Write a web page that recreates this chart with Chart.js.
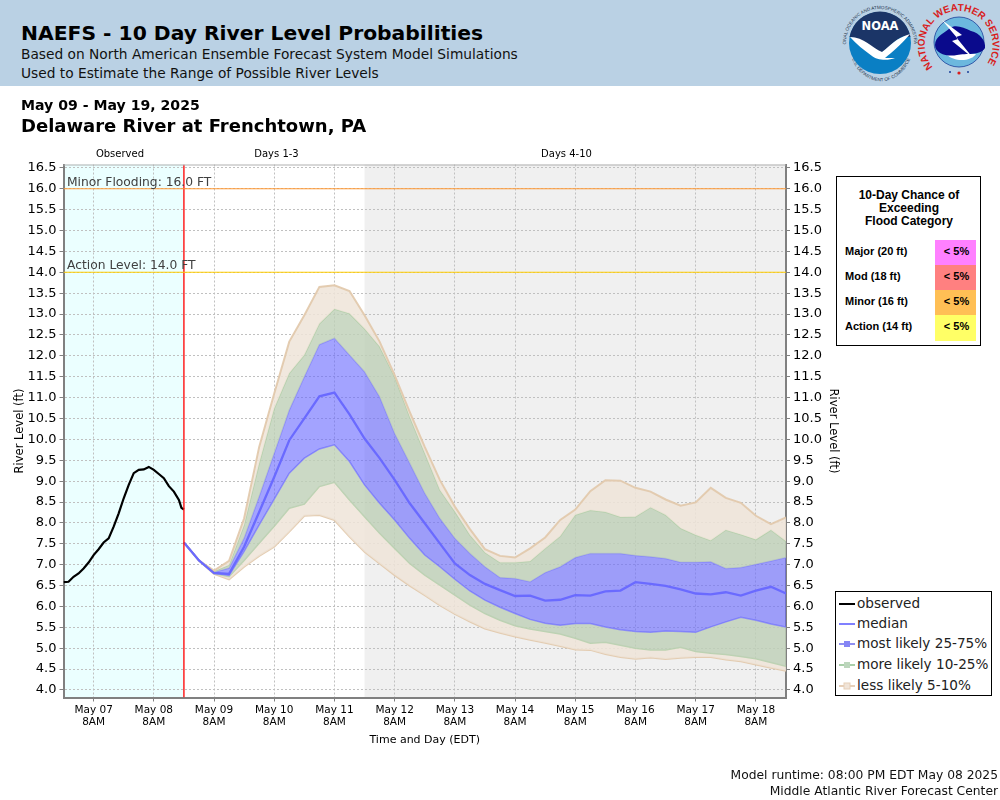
<!DOCTYPE html>
<html>
<head>
<meta charset="utf-8">
<title>NAEFS - 10 Day River Level Probabilities</title>
<script src="https://cdn.jsdelivr.net/npm/chart.js@4/dist/chart.umd.js"></script>
<style>
body { margin: 0; background: #fff; font-family: "DejaVu Sans", sans-serif; color: #000; }
#page { position: relative; width: 1000px; height: 800px; overflow: hidden; }
#page > div, #page > svg, #page > canvas { position: absolute; }
.txt { white-space: nowrap; }
#band { left: 0; top: 0; width: 1000px; height: 86px; background: #bad1e4; }
#chance { left: 836px; top: 176px; width: 143px; height: 168px; border: 1.5px solid #000; background: #fff;
  font-family: "Liberation Sans", sans-serif; font-weight: bold; font-size: 11px; }
#chance div { position: absolute; white-space: nowrap; }
#chance .head { left: 1px; width: 142px; text-align: center; font-size: 12px; }
#chance .cell { left: 98px; width: 39px; padding-left: 2px; height: 25px; line-height: 23px; text-align: center; }
#legend { left: 835px; top: 591px; width: 155px; height: 103px; border: 1.5px solid #000; background: #fff; font-size: 13.6px; }
#legend .row { position: absolute; left: 21px; white-space: nowrap; color: #222; }
#legend svg { position: absolute; left: 2px; }
</style>
</head>
<body>
<div id="page">
  <canvas id="river" width="1000" height="800"></canvas>
  <div id="band"></div>
  <div class="txt" style="left:21px;top:21px;font-size:20.3px;font-weight:bold">NAEFS - 10 Day River Level Probabilities</div>
  <div class="txt" style="left:21px;top:46px;font-size:13.75px;color:#111">Based on North American Ensemble Forecast System Model Simulations</div>
  <div class="txt" style="left:21px;top:65px;font-size:13.75px;color:#111">Used to Estimate the Range of Possible River Levels</div>
  <div class="txt" style="left:21px;top:97px;font-size:14.1px;font-weight:bold">May 09 - May 19, 2025</div>
  <div class="txt" style="left:21px;top:115px;font-size:18px;font-weight:bold">Delaware River at Frenchtown, PA</div>
  <div class="txt" style="right:2px;top:768px;font-size:12.3px;color:#111">Model runtime: 08:00 PM EDT May 08 2025</div>
  <div class="txt" style="right:2px;top:784px;font-size:12.3px;color:#111">Middle Atlantic River Forecast Center</div>

  <svg style="left:840px;top:0" width="160" height="86" viewBox="840 0 160 86">
    <defs>
      <path id="noaaTop" d="M846 43 A34 34 0 0 1 914 43"/>
      <path id="noaaBot" d="M849 43 A31 37 0 0 0 913 43"/>
      <path id="nwsTop" d="M932 66 A34 34 0 1 1 988 62"/>
    </defs>
    <text font-size="4.6" fill="#26374f" font-family="Liberation Sans"><textPath href="#noaaTop" startOffset="50%" text-anchor="middle">NATIONAL OCEANIC AND ATMOSPHERIC ADMINISTRATION</textPath></text>
    <text font-size="4.6" fill="#26374f" font-family="Liberation Sans"><textPath href="#noaaBot" startOffset="50%" text-anchor="middle">U.S. DEPARTMENT OF COMMERCE</textPath></text>
    <circle cx="880" cy="43" r="31" fill="#0a7fc4"/>
    <path d="M849.5 37 A31 31 0 0 1 910.5 37 L904 36 C893 40 888 50 880 53 C872 48 862 38 849.5 37 Z" fill="#1b3567"/>
    <path d="M850 37 C864 37 872 48 882 52 C890 46 896 38 910 34 C900 46 892 52 885 58 L895 58 C888 61 876 60 872 56 C864 50 856 44 850 37 Z" fill="#fff"/>
    <text x="880" y="30" text-anchor="middle" font-size="11.5" font-weight="bold" fill="#fff" font-family="DejaVu Sans">NOAA</text>
    <text font-size="10" font-weight="bold" fill="#d81e1e" font-family="Liberation Sans"><textPath href="#nwsTop" startOffset="50%" text-anchor="middle">NATIONAL WEATHER SERVICE</textPath></text>
    <circle cx="959" cy="42" r="25" fill="#6cb8de" stroke="#1a3f9a" stroke-width="0.8"/>
    <path d="M946 54 C954 62 970 62 976 54 Z" fill="#fff"/>
    <path d="M935 45 C935 36 945 33 950 28 C956 24 964 28 971 31 C980 33 986 41 985 48 C980 56 966 53 957 55 C948 57 935 54 935 45 Z" fill="#0a0a8c"/>
    <path d="M942 20 L962 35 L956 37 L973 58 L952 41 L958 39 Z" fill="#fff"/>
    <circle cx="959" cy="73" r="1.6" fill="#d81e1e"/>
    <circle cx="950" cy="72" r="1" fill="#1a3f9a"/><circle cx="968" cy="72" r="1" fill="#1a3f9a"/>
  </svg>

  <div id="chance">
    <div class="head" style="top:11px">10-Day Chance of</div>
    <div class="head" style="top:24px">Exceeding</div>
    <div class="head" style="top:37px">Flood Category</div>
    <div style="left:8px;top:68px">Major (20 ft)</div>
    <div style="left:8px;top:93px">Mod (18 ft)</div>
    <div style="left:8px;top:118px">Minor (16 ft)</div>
    <div style="left:8px;top:143px">Action (14 ft)</div>
    <div class="cell" style="top:63px;background:#ff80ff">&lt; 5%</div>
    <div class="cell" style="top:88px;background:#ff8080">&lt; 5%</div>
    <div class="cell" style="top:113px;background:#ffbf55">&lt; 5%</div>
    <div class="cell" style="top:138px;height:26px;background:#ffff66">&lt; 5%</div>
  </div>

  <div id="legend">
    <svg style="top:5px" width="18" height="14"><line x1="1" y1="7" x2="17" y2="7" stroke="#000" stroke-width="2"/></svg>
    <div class="row" style="top:3px">observed</div>
    <svg style="top:25px" width="18" height="14"><line x1="1" y1="7" x2="17" y2="7" stroke="#8080ff" stroke-width="2"/></svg>
    <div class="row" style="top:23px">median</div>
    <svg style="top:45px" width="18" height="14"><line x1="1" y1="7" x2="17" y2="7" stroke="#8f8ff2" stroke-width="2"/><rect x="6" y="4" width="6" height="6" fill="#8585f5"/></svg>
    <div class="row" style="top:43px">most likely 25-75%</div>
    <svg style="top:66px" width="18" height="14"><line x1="1" y1="7" x2="17" y2="7" stroke="#a9cfa9" stroke-width="2"/><rect x="6" y="4" width="6" height="6" fill="#bcd6bc"/></svg>
    <div class="row" style="top:64px">more likely 10-25%</div>
    <svg style="top:87px" width="18" height="14"><line x1="1" y1="7" x2="17" y2="7" stroke="#e6cfb8" stroke-width="2"/><rect x="6" y="4" width="6" height="6" fill="#f0e4d8" stroke="#e6cfb8"/></svg>
    <div class="row" style="top:85px">less likely 5-10%</div>
  </div>
</div>

<script>
// hours counted from May 06 8PM
const tickHours = [12, 36, 60, 84, 108, 132, 156, 180, 204, 228, 252, 276]
const tickDays = ['May 07', 'May 08', 'May 09', 'May 10', 'May 11', 'May 12', 'May 13', 'May 14', 'May 15', 'May 16', 'May 17', 'May 18']
const levelTicks = [4, 4.5, 5, 5.5, 6, 6.5, 7, 7.5, 8, 8.5, 9, 9.5, 10, 10.5, 11, 11.5, 12, 12.5, 13, 13.5, 14, 14.5, 15, 15.5, 16, 16.5]

const obsHours = [0, 2, 4, 6, 8, 10, 12, 14, 16, 18, 20, 22, 24, 26, 28, 30, 32, 34, 36, 38, 40, 42, 44, 46, 47, 48]
const observed = [6.58, 6.59, 6.71, 6.79, 6.91, 7.05, 7.23, 7.37, 7.53, 7.63, 7.91, 8.23, 8.59, 8.91, 9.19, 9.27, 9.28, 9.34, 9.27, 9.17, 9.07, 8.88, 8.75, 8.55, 8.36, 8.32]

const fcstHours = [48, 54, 60, 66, 72, 78, 84, 90, 96, 102, 108, 114, 120, 126, 132, 138, 144, 150, 156, 162, 168, 174, 180, 186, 192, 198, 204, 210, 216, 222, 228, 234, 240, 246, 252, 258, 264, 270, 276, 282, 288]
const median = [7.53, 7.1, 6.8, 6.78, 7.43, 8.26, 9.1, 9.98, 10.5, 11.03, 11.12, 10.6, 10.02, 9.55, 9.03, 8.47, 7.99, 7.51, 7.03, 6.75, 6.54, 6.39, 6.25, 6.26, 6.14, 6.16, 6.27, 6.26, 6.36, 6.38, 6.58, 6.54, 6.49, 6.41, 6.31, 6.29, 6.34, 6.26, 6.38, 6.47, 6.31]
const p75 = [7.53, 7.1, 6.82, 6.92, 7.64, 8.63, 9.67, 10.7, 11.5, 12.27, 12.42, 12.02, 11.62, 11.02, 10.14, 9.43, 8.71, 8.11, 7.63, 7.27, 6.95, 6.69, 6.67, 6.59, 6.81, 6.95, 7.17, 7.27, 7.27, 7.27, 7.22, 7.19, 7.15, 7.06, 7.06, 7.07, 6.91, 6.93, 7.01, 7.09, 7.17]
const p25 = [7.53, 7.1, 6.8, 6.74, 7.32, 7.95, 8.57, 9.19, 9.55, 9.77, 9.87, 9.47, 8.91, 8.47, 8.07, 7.63, 7.23, 6.95, 6.65, 6.37, 6.15, 5.98, 5.83, 5.69, 5.6, 5.55, 5.59, 5.59, 5.51, 5.44, 5.4, 5.38, 5.41, 5.4, 5.38, 5.51, 5.63, 5.74, 5.67, 5.58, 5.51]
const p90 = [7.53, 7.1, 6.84, 6.99, 7.95, 9.42, 10.74, 11.58, 12.02, 12.77, 13.12, 13.01, 12.65, 12.22, 11.5, 10.54, 9.67, 8.79, 8.27, 7.71, 7.29, 7.05, 7.05, 7.08, 7.39, 7.68, 8.19, 8.3, 8.26, 8.14, 8.15, 8.37, 8.19, 7.87, 7.71, 7.58, 7.83, 7.72, 7.6, 7.83, 7.56]
const p10 = [7.53, 7.1, 6.79, 6.71, 7.1, 7.51, 7.92, 8.35, 8.45, 8.87, 8.97, 8.55, 8.15, 7.75, 7.39, 7.03, 6.75, 6.51, 6.27, 6.03, 5.83, 5.67, 5.54, 5.46, 5.4, 5.34, 5.24, 5.12, 5.14, 5.07, 5, 4.96, 4.96, 5.02, 4.92, 4.88, 4.85, 4.8, 4.75, 4.66, 4.57]
const p95 = [7.53, 7.1, 6.86, 7.09, 8.11, 9.82, 11.1, 12.34, 12.97, 13.65, 13.69, 13.55, 12.97, 12.34, 11.54, 10.66, 9.82, 9.03, 8.39, 7.85, 7.37, 7.21, 7.17, 7.39, 7.65, 8.07, 8.32, 8.76, 9.02, 9.01, 8.84, 8.75, 8.56, 8.41, 8.49, 8.84, 8.6, 8.48, 8.17, 7.97, 8.13]
const p5 = [7.53, 7.1, 6.78, 6.65, 6.95, 7.21, 7.43, 7.79, 8.17, 8.19, 8.07, 7.67, 7.31, 7.03, 6.75, 6.5, 6.27, 6.03, 5.82, 5.64, 5.47, 5.37, 5.28, 5.2, 5.13, 5.05, 4.97, 4.96, 4.86, 4.79, 4.75, 4.78, 4.74, 4.77, 4.79, 4.79, 4.73, 4.69, 4.61, 4.53, 4.46]

const xRange = [0, 288]
const nowHour = [48, 48]
const yRange = [3.82, 16.58]
const minorLevel = [16, 16]
const actionLevel = [14, 14]

const GREY = '#808080'
const pts = (xs, ys) => xs.map((x, i) => ({ x: x, y: ys[i] }))

function line(data, color, width, fill) {
    return { data: data, borderColor: color, borderWidth: width, pointRadius: 0, tension: 0, fill: fill === undefined ? false : fill.target, backgroundColor: fill ? fill.color : undefined }
}

const TAN = 'rgba(238, 228, 216, 0.85)'
const GREEN = 'rgba(190, 208, 182, 0.8)'
const BLUE = 'rgba(102, 102, 255, 0.6)'

Chart.defaults.font.family = '"DejaVu Sans"'

// background spans, drawn before the grid
const spans = {
    id: 'spans',
    beforeDraw(chart) {
        const { ctx, chartArea: a, scales: { x } } = chart
        ctx.save()
        ctx.fillStyle = '#ebffff'
        ctx.fillRect(a.left, a.top, x.getPixelForValue(48) - a.left, a.bottom - a.top)
        ctx.fillStyle = '#f0f0f0'
        ctx.fillRect(x.getPixelForValue(120), a.top, a.right - x.getPixelForValue(120), a.bottom - a.top)
        ctx.restore()
    },
    afterDatasetsDraw(chart) {
        const { ctx, chartArea: a, scales: { x, y } } = chart
        ctx.save()
        ctx.strokeStyle = '#b0b0b0'
        ctx.lineWidth = 1
        ctx.beginPath()
        ctx.moveTo(a.left, a.top + 0.5)
        ctx.lineTo(a.right, a.top + 0.5)
        ctx.stroke()

        ctx.fillStyle = '#404040'
        ctx.font = '12.3px "DejaVu Sans"'
        ctx.textAlign = 'left'
        ctx.textBaseline = 'alphabetic'
        ctx.fillText('Minor Flooding: 16.0 FT', a.left + 3.5, y.getPixelForValue(16) - 3)
        ctx.fillText('Action Level: 14.0 FT', a.left + 3.5, y.getPixelForValue(14) - 3)

        ctx.fillStyle = '#000'
        ctx.font = '10px "DejaVu Sans"'
        ctx.textAlign = 'center'
        ctx.fillText('Observed', x.getPixelForValue(22.5), a.top - 8)
        ctx.fillText('Days 1-3', x.getPixelForValue(84.9), a.top - 8)
        ctx.fillText('Days 4-10', x.getPixelForValue(200.5), a.top - 8)
        ctx.restore()
    }
}

const ctx = document.getElementById('river').getContext('2d')

new Chart(ctx, {
    type: 'line',
    plugins: [spans],
    data: {
        datasets: [
            line(pts(xRange, minorLevel), '#ff9933', 1.2),
            line(pts(xRange, actionLevel), '#ffcc00', 1.2),
            line(pts(nowHour, yRange), '#ff1010', 1.4),
            line(pts(obsHours, observed), '#000', 2.2),
            line(pts(fcstHours, median), '#6a6aff', 2.3),
            line(pts(fcstHours, p95), 'rgba(225, 200, 170, 0.9)', 2, { target: 6, color: TAN }),
            line(pts(fcstHours, p90), 'rgba(175, 205, 165, 0.8)', 1.5, { target: 7, color: GREEN }),
            line(pts(fcstHours, p75), 'rgba(130, 130, 250, 0.8)', 1.5, { target: 8, color: BLUE }),
            line(pts(fcstHours, p25), 'rgba(130, 130, 250, 0.8)', 1.5, { target: 9, color: GREEN }),
            line(pts(fcstHours, p10), 'rgba(175, 205, 165, 0.8)', 1.5, { target: 10, color: TAN }),
            line(pts(fcstHours, p5), 'rgba(225, 200, 170, 0.9)', 2)
        ]
    },
    options: {
        responsive: false,
        animation: false,
        devicePixelRatio: 1,
        layout: { padding: { top: 164.5, right: 160, bottom: 52, left: 0 } },
        plugins: { legend: { display: false }, tooltip: { enabled: false } },
        scales: {
            x: {
                type: 'linear',
                min: xRange[0],
                max: xRange[1],
                afterBuildTicks: s => { s.ticks = tickHours.map(v => ({ value: v })) },
                afterFit: s => { s.height = 50.5 },
                ticks: {
                    autoSkip: false,
                    maxRotation: 0,
                    padding: 2,
                    color: '#000',
                    font: { size: 10.5 },
                    callback: v => [tickDays[tickHours.indexOf(v)], '8AM']
                },
                grid: { color: '#c0c0c0', tickColor: GREY, tickLength: 4, lineWidth: 1 },
                border: { color: GREY, width: 2, dash: [2, 2] },
                title: { display: true, text: 'Time and Day (EDT)', color: '#000', font: { size: 11 }, padding: { top: 0, bottom: 1 } }
            },
            y: {
                min: yRange[0],
                max: yRange[1],
                afterBuildTicks: s => { s.ticks = levelTicks.map(v => ({ value: v })) },
                afterFit: s => { s.width = 63.5 },
                ticks: { autoSkip: false, color: '#000', font: { size: 13 }, padding: 3, callback: v => v.toFixed(1) },
                grid: { color: '#c0c0c0', tickColor: GREY, tickLength: 4, lineWidth: 1 },
                border: { color: GREY, width: 2, dash: [2, 2] },
                title: { display: true, text: 'River Level (ft)', color: '#000', font: { size: 11.5 }, padding: { top: 13, bottom: 0 } }
            },
            y2: {
                position: 'right',
                min: yRange[0],
                max: yRange[1],
                afterBuildTicks: s => { s.ticks = levelTicks.map(v => ({ value: v })) },
                afterFit: s => { s.width = 54 },
                ticks: { autoSkip: false, color: '#000', font: { size: 13 }, padding: 3, callback: v => v.toFixed(1) },
                grid: { drawOnChartArea: false, tickColor: GREY, tickLength: 4 },
                border: { color: GREY, width: 2 },
                title: { display: true, text: 'River Level (ft)', color: '#000', font: { size: 11.5 }, padding: { top: 0, bottom: 13 } }
            }
        }
    }
})
</script>
</body>
</html>
